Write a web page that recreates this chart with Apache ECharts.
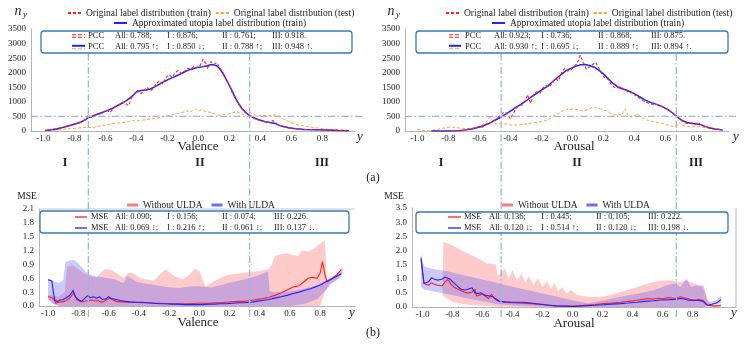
<!DOCTYPE html>
<html>
<head>
<meta charset="utf-8">
<script src="https://cdn.jsdelivr.net/npm/echarts@6/dist/echarts.min.js"></script>
<style>
  html, body { margin: 0; padding: 0; background: #fff; }
  #main { width: 748px; height: 353px; }
</style>
</head>
<body>
<div id="main"></div>
<script>
// ---- data ----
const xTicks = [-1.0, -0.8, -0.6, -0.4, -0.2, 0.0, 0.2, 0.4, 0.6, 0.8];

// (a) label distributions, valence
const valTrain = [[-0.99,10],[-0.96,40],[-0.93,60],[-0.91,50],[-0.89,110],[-0.87,130],[-0.85,170],[-0.83,180],[-0.81,230],[-0.79,260],[-0.77,270],[-0.75,310],[-0.73,380],[-0.71,560],[-0.69,460],[-0.67,520],[-0.65,600],[-0.63,570],[-0.61,660],[-0.59,700],[-0.57,640],[-0.55,760],[-0.53,880],[-0.51,900],[-0.49,1000],[-0.47,940],[-0.45,870],[-0.43,1150],[-0.41,1300],[-0.39,1390],[-0.37,1280],[-0.35,1400],[-0.33,1500],[-0.31,1380],[-0.29,1460],[-0.27,1640],[-0.25,1720],[-0.23,1610],[-0.21,1830],[-0.19,1930],[-0.17,1840],[-0.15,2000],[-0.13,2080],[-0.11,1970],[-0.09,2050],[-0.07,2150],[-0.05,2120],[-0.03,2220],[-0.01,2160],[0.01,2240],[0.03,2460],[0.05,2300],[0.06,2130],[0.08,2380],[0.10,2290],[0.12,2340],[0.14,2150],[0.16,1990],[0.18,1750],[0.20,1560],[0.22,1300],[0.24,1100],[0.26,920],[0.28,770],[0.30,650],[0.32,560],[0.34,490],[0.37,410],[0.40,360],[0.43,320],[0.46,300],[0.48,360],[0.49,300],[0.51,230],[0.54,170],[0.58,120],[0.63,80],[0.68,55],[0.75,45],[0.82,35],[0.90,20],[0.97,10]];
const valTest = [[-0.97,5],[-0.92,30],[-0.87,60],[-0.82,80],[-0.77,100],[-0.72,130],[-0.68,110],[-0.64,170],[-0.60,200],[-0.56,250],[-0.52,270],[-0.48,300],[-0.45,330],[-0.41,360],[-0.38,350],[-0.34,390],[-0.30,420],[-0.27,430],[-0.24,480],[-0.20,520],[-0.17,560],[-0.13,600],[-0.10,640],[-0.08,700],[-0.06,650],[-0.04,690],[-0.02,760],[0.00,680],[0.02,730],[0.04,680],[0.06,650],[0.08,640],[0.11,570],[0.14,540],[0.17,570],[0.20,590],[0.23,640],[0.25,660],[0.27,600],[0.29,560],[0.31,700],[0.33,650],[0.36,560],[0.39,520],[0.42,540],[0.45,520],[0.48,540],[0.50,560],[0.53,460],[0.56,380],[0.60,280],[0.64,210],[0.68,180],[0.72,140],[0.76,110],[0.80,80],[0.84,60],[0.88,50],[0.92,55],[0.96,35],[0.98,30]];
const valUtopia = [[-0.99,15],[-0.95,40],[-0.91,80],[-0.87,130],[-0.83,190],[-0.79,250],[-0.75,330],[-0.71,450],[-0.67,540],[-0.63,620],[-0.59,700],[-0.55,790],[-0.52,880],[-0.49,960],[-0.46,1060],[-0.43,1180],[-0.40,1340],[-0.37,1390],[-0.34,1410],[-0.31,1440],[-0.28,1520],[-0.25,1610],[-0.22,1700],[-0.19,1780],[-0.16,1850],[-0.13,1920],[-0.10,2000],[-0.07,2080],[-0.04,2130],[-0.01,2180],[0.02,2200],[0.05,2230],[0.08,2270],[0.10,2270],[0.12,2230],[0.14,2120],[0.16,1960],[0.18,1760],[0.20,1560],[0.22,1340],[0.24,1120],[0.26,930],[0.28,780],[0.30,660],[0.32,570],[0.34,500],[0.37,420],[0.40,370],[0.43,320],[0.46,290],[0.49,270],[0.51,220],[0.54,160],[0.58,110],[0.63,75],[0.68,55],[0.75,45],[0.82,35],[0.90,20],[0.97,10]];

// (a) label distributions, arousal
const aroTrain = [[-0.91,0],[-0.80,0],[-0.72,10],[-0.68,50],[-0.65,80],[-0.62,110],[-0.60,160],[-0.58,130],[-0.56,230],[-0.54,260],[-0.52,320],[-0.50,380],[-0.48,470],[-0.46,560],[-0.44,650],[-0.42,600],[-0.40,420],[-0.38,620],[-0.36,800],[-0.34,880],[-0.32,900],[-0.30,1080],[-0.29,1250],[-0.27,950],[-0.25,1250],[-0.23,1350],[-0.21,1300],[-0.19,1480],[-0.17,1560],[-0.15,1500],[-0.13,1650],[-0.11,1800],[-0.09,1720],[-0.07,2000],[-0.05,2150],[-0.03,2060],[-0.01,2100],[0.01,2200],[0.03,2320],[0.05,2600],[0.07,2350],[0.09,2120],[0.11,2200],[0.13,2280],[0.15,2360],[0.17,2150],[0.19,1950],[0.21,1800],[0.23,1780],[0.25,1600],[0.27,1500],[0.29,1480],[0.31,1520],[0.33,1430],[0.35,1380],[0.37,1300],[0.39,1330],[0.41,1200],[0.43,1140],[0.45,1050],[0.47,1000],[0.49,960],[0.51,930],[0.53,900],[0.55,910],[0.57,860],[0.59,800],[0.61,750],[0.63,680],[0.65,600],[0.67,500],[0.69,420],[0.71,330],[0.73,270],[0.75,250],[0.77,280],[0.79,230],[0.81,290],[0.83,210],[0.85,160],[0.88,110],[0.91,80],[0.94,60],[0.97,30]];
const aroTest = [[-1.00,60],[-0.97,20],[-0.93,10],[-0.90,20],[-0.87,60],[-0.84,90],[-0.81,120],[-0.78,140],[-0.75,110],[-0.72,100],[-0.69,80],[-0.66,90],[-0.63,120],[-0.60,170],[-0.57,250],[-0.55,330],[-0.53,480],[-0.51,300],[-0.49,240],[-0.46,270],[-0.43,240],[-0.40,210],[-0.37,200],[-0.34,210],[-0.31,230],[-0.28,260],[-0.25,280],[-0.22,300],[-0.19,330],[-0.16,380],[-0.14,440],[-0.12,520],[-0.10,560],[-0.08,640],[-0.06,700],[-0.04,760],[-0.02,720],[0.00,760],[0.02,740],[0.04,720],[0.06,690],[0.08,700],[0.10,740],[0.12,790],[0.14,800],[0.16,790],[0.18,760],[0.20,720],[0.22,700],[0.24,620],[0.27,560],[0.30,560],[0.32,560],[0.34,760],[0.36,520],[0.38,480],[0.40,520],[0.42,600],[0.44,480],[0.46,420],[0.48,380],[0.50,340],[0.53,310],[0.56,280],[0.59,240],[0.62,200],[0.65,150],[0.68,180],[0.69,290],[0.71,190],[0.74,160],[0.77,140],[0.80,150],[0.83,140],[0.86,110],[0.89,80],[0.92,55],[0.96,40]];
const aroUtopia = [[-0.91,0],[-0.80,0],[-0.74,5],[-0.70,30],[-0.65,70],[-0.61,120],[-0.57,190],[-0.53,280],[-0.50,370],[-0.46,480],[-0.43,580],[-0.40,680],[-0.37,790],[-0.33,920],[-0.30,1030],[-0.27,1150],[-0.23,1290],[-0.20,1400],[-0.16,1540],[-0.13,1680],[-0.10,1820],[-0.07,1950],[-0.04,2070],[-0.01,2150],[0.02,2220],[0.05,2270],[0.08,2280],[0.11,2250],[0.14,2190],[0.17,2090],[0.20,1960],[0.23,1800],[0.26,1640],[0.29,1520],[0.32,1450],[0.35,1400],[0.38,1330],[0.41,1250],[0.44,1150],[0.47,1060],[0.50,990],[0.53,940],[0.56,880],[0.59,810],[0.62,720],[0.65,600],[0.68,470],[0.71,350],[0.74,290],[0.77,260],[0.80,240],[0.83,210],[0.86,150],[0.89,100],[0.92,70],[0.95,50],[0.97,30]];

// (b) MSE, valence
const valMseBase = [[-1.00,0.20],[-0.98,0.19],[-0.96,0.14],[-0.95,0.06],[-0.93,0.08],[-0.91,0.09],[-0.89,0.10],[-0.87,0.14],[-0.85,0.20],[-0.83,0.28],[-0.82,0.26],[-0.81,0.14],[-0.79,0.10],[-0.77,0.09],[-0.75,0.11],[-0.73,0.12],[-0.71,0.13],[-0.69,0.11],[-0.67,0.12],[-0.65,0.08],[-0.63,0.10],[-0.61,0.14],[-0.59,0.17],[-0.57,0.13],[-0.55,0.10],[-0.52,0.09],[-0.49,0.08],[-0.46,0.08],[-0.42,0.08],[-0.38,0.07],[-0.34,0.07],[-0.30,0.06],[-0.26,0.06],[-0.22,0.05],[-0.18,0.05],[-0.14,0.05],[-0.10,0.05],[-0.06,0.05],[-0.02,0.06],[0.02,0.06],[0.06,0.06],[0.10,0.07],[0.14,0.07],[0.18,0.08],[0.22,0.09],[0.26,0.10],[0.30,0.10],[0.34,0.12],[0.38,0.14],[0.42,0.16],[0.46,0.19],[0.50,0.23],[0.54,0.28],[0.57,0.33],[0.60,0.38],[0.63,0.42],[0.66,0.44],[0.69,0.52],[0.72,0.60],[0.75,0.62],[0.78,0.60],[0.80,0.72],[0.815,0.96],[0.83,0.70],[0.845,0.52],[0.86,0.55],[0.88,0.60],[0.91,0.68],[0.94,0.79]];
const valMseUlda = [[-1.00,0.57],[-0.975,0.54],[-0.965,0.30],[-0.955,0.12],[-0.94,0.10],[-0.92,0.13],[-0.90,0.14],[-0.88,0.18],[-0.86,0.22],[-0.845,0.28],[-0.835,0.34],[-0.82,0.20],[-0.80,0.14],[-0.78,0.10],[-0.76,0.16],[-0.74,0.22],[-0.72,0.18],[-0.70,0.20],[-0.68,0.17],[-0.66,0.20],[-0.64,0.14],[-0.62,0.15],[-0.60,0.20],[-0.58,0.16],[-0.55,0.14],[-0.52,0.12],[-0.49,0.10],[-0.46,0.09],[-0.42,0.08],[-0.38,0.08],[-0.34,0.07],[-0.30,0.06],[-0.26,0.05],[-0.22,0.05],[-0.18,0.04],[-0.14,0.04],[-0.10,0.03],[-0.06,0.03],[-0.02,0.03],[0.02,0.03],[0.06,0.04],[0.10,0.04],[0.14,0.05],[0.18,0.05],[0.22,0.06],[0.26,0.07],[0.30,0.07],[0.34,0.08],[0.38,0.10],[0.42,0.12],[0.46,0.14],[0.50,0.17],[0.54,0.20],[0.58,0.23],[0.62,0.27],[0.66,0.30],[0.70,0.34],[0.74,0.38],[0.78,0.43],[0.81,0.47],[0.84,0.53],[0.87,0.58],[0.90,0.63],[0.94,0.70]];
const valBandBaseUp = [[-1.00,0.25],[-0.93,0.20],[-0.89,0.30],[-0.875,0.85],[-0.84,0.88],[-0.80,0.80],[-0.76,0.70],[-0.72,0.64],[-0.68,0.62],[-0.65,0.72],[-0.62,0.80],[-0.58,0.78],[-0.54,0.70],[-0.50,0.60],[-0.47,0.72],[-0.43,0.70],[-0.40,0.62],[-0.36,0.58],[-0.30,0.55],[-0.26,0.68],[-0.22,0.80],[-0.19,0.70],[-0.15,0.62],[-0.11,0.58],[-0.07,0.66],[-0.03,0.80],[0.00,0.76],[0.02,0.60],[0.04,0.42],[0.07,0.48],[0.11,0.56],[0.15,0.62],[0.20,0.68],[0.25,0.70],[0.30,0.72],[0.35,0.74],[0.40,0.76],[0.46,0.80],[0.48,0.90],[0.50,1.08],[0.54,1.12],[0.58,1.14],[0.62,1.10],[0.65,1.08],[0.68,1.20],[0.72,1.18],[0.76,1.24],[0.79,1.32],[0.83,1.42],[0.845,0.55],[0.88,0.60],[0.91,0.68],[0.95,0.85]];
const valBandBaseLow = [[-1.00,0.12],[-0.95,0.02],[-0.90,0.00],[0.80,0.00],[0.83,0.30],[0.86,0.48],[0.90,0.55],[0.95,0.72]];
const valBandUldaUp = [[-1.00,0.60],[-0.93,0.50],[-0.90,0.55],[-0.885,0.95],[-0.86,0.98],[-0.83,1.00],[-0.80,0.92],[-0.78,0.85],[-0.75,0.74],[-0.72,0.68],[-0.68,0.64],[-0.64,0.62],[-0.60,0.60],[-0.56,0.58],[-0.52,0.52],[-0.50,0.50],[-0.48,0.65],[-0.45,0.60],[-0.41,0.52],[-0.35,0.48],[-0.30,0.46],[-0.24,0.42],[-0.18,0.40],[-0.13,0.39],[-0.06,0.42],[0.00,0.43],[0.04,0.41],[0.08,0.40],[0.14,0.45],[0.19,0.50],[0.25,0.54],[0.30,0.58],[0.35,0.62],[0.39,0.66],[0.43,0.72],[0.455,0.76],[0.465,0.32],[0.50,0.30],[0.60,0.32],[0.70,0.38],[0.78,0.45],[0.82,0.52],[0.86,0.60],[0.90,0.66],[0.94,0.74]];
const valBandUldaLow = [[-1.00,0.15],[-0.96,0.05],[-0.93,0.00],[0.60,0.00],[0.70,0.05],[0.78,0.15],[0.84,0.35],[0.88,0.50],[0.94,0.62]];

// (b) MSE, arousal
const aroMseBase = [[-1.01,1.66],[-0.99,0.83],[-0.96,0.77],[-0.94,0.86],[-0.92,0.80],[-0.90,0.77],[-0.87,0.74],[-0.85,0.89],[-0.83,0.97],[-0.81,0.80],[-0.79,0.70],[-0.76,0.62],[-0.73,0.55],[-0.71,0.50],[-0.69,0.50],[-0.67,0.53],[-0.65,0.62],[-0.64,0.39],[-0.62,0.42],[-0.60,0.45],[-0.58,0.38],[-0.56,0.30],[-0.54,0.45],[-0.52,0.30],[-0.50,0.22],[-0.47,0.18],[-0.42,0.15],[-0.37,0.14],[-0.33,0.13],[-0.28,0.12],[-0.22,0.10],[-0.16,0.07],[-0.11,0.04],[-0.05,0.03],[0.00,0.03],[0.05,0.05],[0.10,0.07],[0.15,0.09],[0.21,0.12],[0.26,0.14],[0.32,0.17],[0.37,0.20],[0.43,0.24],[0.47,0.27],[0.50,0.30],[0.54,0.28],[0.57,0.31],[0.60,0.29],[0.63,0.33],[0.66,0.32],[0.69,0.30],[0.72,0.36],[0.74,0.33],[0.77,0.30],[0.79,0.25],[0.81,0.22],[0.84,0.27],[0.87,0.23],[0.90,0.06],[0.94,0.04],[0.97,0.04],[0.99,0.07]];
const aroMseUlda = [[-1.01,1.74],[-0.99,0.83],[-0.96,0.89],[-0.94,1.03],[-0.92,0.98],[-0.90,0.95],[-0.87,0.98],[-0.85,1.05],[-0.82,1.00],[-0.80,0.90],[-0.78,0.80],[-0.76,0.70],[-0.74,0.62],[-0.72,0.60],[-0.70,0.62],[-0.67,0.68],[-0.65,0.50],[-0.63,0.48],[-0.61,0.50],[-0.58,0.41],[-0.55,0.39],[-0.53,0.35],[-0.51,0.28],[-0.49,0.21],[-0.45,0.18],[-0.40,0.17],[-0.33,0.17],[-0.28,0.14],[-0.22,0.10],[-0.16,0.06],[-0.11,0.04],[-0.05,0.03],[0.00,0.02],[0.05,0.03],[0.10,0.05],[0.15,0.06],[0.21,0.08],[0.26,0.10],[0.32,0.12],[0.37,0.14],[0.43,0.17],[0.48,0.20],[0.54,0.22],[0.59,0.25],[0.65,0.26],[0.69,0.27],[0.72,0.30],[0.75,0.28],[0.77,0.24],[0.80,0.25],[0.84,0.23],[0.87,0.20],[0.90,0.06],[0.93,0.10],[0.96,0.14],[0.99,0.26]];
const aroBandBaseUp = [[-0.865,1.10],[-0.86,2.31],[-0.80,2.17],[-0.74,2.00],[-0.68,1.85],[-0.62,1.70],[-0.565,1.50],[-0.56,1.55],[-0.51,1.50],[-0.50,1.10],[-0.45,1.37],[-0.425,1.00],[-0.40,1.30],[-0.37,0.93],[-0.34,1.19],[-0.315,0.86],[-0.29,1.09],[-0.26,0.78],[-0.23,1.02],[-0.20,0.70],[-0.17,0.91],[-0.145,0.63],[-0.12,0.84],[-0.095,0.56],[-0.07,0.70],[-0.04,0.48],[-0.01,0.59],[0.03,0.42],[0.10,0.36],[0.15,0.36],[0.21,0.37],[0.27,0.45],[0.32,0.53],[0.38,0.62],[0.43,0.71],[0.49,0.80],[0.54,0.88],[0.60,0.93],[0.65,0.95],[0.70,0.90],[0.72,0.88],[0.76,0.95],[0.80,0.85],[0.84,0.78],[0.875,0.77],[0.90,0.24],[0.92,0.06],[0.99,0.05]];
const aroBandBaseLow = [[-0.865,0.40],[-0.80,0.18],[-0.70,0.08],[-0.60,0.04],[-0.50,0.01],[0.00,0.00],[0.90,0.00],[0.99,0.00]];
const aroBandUldaUp = [[-1.01,1.90],[-0.99,1.45],[-0.96,1.38],[-0.90,1.32],[-0.85,1.28],[-0.80,1.22],[-0.70,1.10],[-0.60,0.97],[-0.50,0.85],[-0.40,0.72],[-0.30,0.60],[-0.20,0.48],[-0.10,0.36],[0.00,0.24],[0.10,0.12],[0.21,0.24],[0.32,0.36],[0.43,0.47],[0.54,0.59],[0.63,0.77],[0.68,0.83],[0.72,0.71],[0.76,1.00],[0.79,0.71],[0.83,0.77],[0.87,0.71],[0.90,0.24],[0.92,0.18],[0.96,0.24],[0.99,0.41]];
const aroBandUldaLow = [[-1.01,0.70],[-0.99,0.62],[-0.90,0.52],[-0.80,0.42],[-0.70,0.30],[-0.60,0.20],[-0.50,0.10],[-0.40,0.05],[-0.20,0.01],[0.00,0.00],[0.88,0.00],[0.90,0.04],[0.94,0.08],[0.99,0.14]];

// region boundaries on each label axis
const valSplits = [-0.71, 0.33];
const aroSplits = [-0.46, 0.67];

// text of the statistics boxes
const valPcc = [['All: 0.788;', 'I : 0.876;', 'II : 0.761;', 'III: 0.918.'],
                ['All: 0.795 ↑;', 'I : 0.850 ↓;', 'II : 0.788 ↑;', 'III: 0.948 ↑.']];
const aroPcc = [['All: 0.923;', 'I : 0.736;', 'II : 0.868;', 'III: 0.875.'],
                ['All: 0.930 ↑;', 'I : 0.695 ↓;', 'II : 0.889 ↑;', 'III: 0.894 ↑.']];
const valMse = [['All: 0.090;', 'I : 0.156;', 'II : 0.074;', 'III: 0.226.'],
                ['All: 0.069 ↓;', 'I : 0.216 ↑;', 'II : 0.061 ↓;', 'III: 0.137 ↓.']];
const aroMse = [['All: 0.136;', 'I : 0.445;', 'II : 0.105;', 'III: 0.222.'],
                ['All: 0.120 ↓;', 'I : 0.514 ↑;', 'II : 0.120 ↓;', 'III: 0.198 ↓.']];

// ---- layout ----
const FONT = 'Liberation Serif';
const TXT = '#222';
const N_TRAIN = 'Original label distribution (train)';
const N_TEST = 'Original label distribution (test)';
const N_UTO = 'Approximated utopia label distribution (train)';
const N_BASE = 'Without ULDA';
const N_ULDA = 'With ULDA';

const grids = [
    { left: 31, top: 29, width: 324, height: 102 },
    { left: 405, top: 29, width: 324, height: 102 },
    { left: 39, top: 209, width: 316, height: 97 },
    { left: 412, top: 208, width: 324, height: 99 }
];
const xRanges = [[-1.08, 1.01], [-1.08, 1.01], [-1.06, 1.03], [-1.07, 1.09]];
const yRanges = [[0, 3500, 500], [0, 3500, 500], [0, 2.1, 0.3], [0, 3.5, 0.5]];

const chart = echarts.init(document.getElementById('main'));

function xAxis(i) {
    return {
        type: 'value', gridIndex: i, min: xRanges[i][0], max: xRanges[i][1],
        axisLine: { show: true, onZero: false, lineStyle: { color: '#b5b5b5', width: 1 } },
        axisTick: { show: false },
        splitLine: { show: false },
        axisLabel: {
            customValues: xTicks, formatter: v => v.toFixed(1),
            fontFamily: FONT, fontSize: 9, color: TXT, margin: 3
        }
    };
}
function yAxis(i) {
    const r = yRanges[i];
    return {
        type: 'value', gridIndex: i, min: r[0], max: r[1], interval: r[2],
        axisLine: { show: true, onZero: false, lineStyle: { color: '#b5b5b5', width: 1 } },
        axisTick: { show: false },
        splitLine: { show: false },
        axisLabel: {
            formatter: v => (i < 2 ? String(Math.round(v)) : v.toFixed(1)),
            fontFamily: FONT, fontSize: 9, color: TXT, margin: 5
        }
    };
}
function line(i, name, data, color, width, dash, z) {
    return {
        type: 'line', name: name, xAxisIndex: i, yAxisIndex: i, data: data,
        symbol: 'none', z: z, animation: false,
        lineStyle: { color: color, width: width, type: dash || 'solid' },
        itemStyle: { color: color }
    };
}
function band(i, name, upper, lower, fill) {
    return {
        type: 'custom', name: name, xAxisIndex: i, yAxisIndex: i, data: [[0, 0]],
        silent: true, z: 1, animation: false,
        renderItem: (params, api) => {
            const pts = upper.map(p => api.coord(p))
                .concat(lower.slice().reverse().map(p => api.coord(p)));
            return { type: 'polygon', shape: { points: pts }, style: { fill: fill } };
        }
    };
}

const RED = '#ff2020', ORANGE = '#ffa133', BLUE = '#2222ff';
const PINK = 'rgba(255,80,80,0.3)', LAV = 'rgba(80,80,255,0.3)';
const legendText = { fontFamily: FONT, fontSize: 9.5, color: TXT };
const noSymbol = { opacity: 0 };

const option = {
    animation: false,
    grid: grids.map(g => Object.assign({ outerBoundsMode: 'none', containLabel: false }, g)),
    xAxis: [0, 1, 2, 3].map(xAxis),
    yAxis: [0, 1, 2, 3].map(yAxis),
    legend: [
        { data: [N_TRAIN, N_TEST], left: 62, top: 3, itemWidth: 13, itemHeight: 8, itemGap: 4, selectedMode: false, itemStyle: noSymbol, textStyle: legendText },
        { data: [N_UTO], left: 108, top: 13, itemWidth: 13, itemHeight: 8, selectedMode: false, itemStyle: noSymbol, textStyle: legendText },
        { data: [N_TRAIN, N_TEST], left: 440, top: 3, itemWidth: 13, itemHeight: 8, itemGap: 4, selectedMode: false, itemStyle: noSymbol, textStyle: legendText },
        { data: [N_UTO], left: 486, top: 13, itemWidth: 13, itemHeight: 8, selectedMode: false, itemStyle: noSymbol, textStyle: legendText },
        { data: [{ name: N_BASE, icon: 'rect', itemStyle: { color: '#ff7b7b' } }, { name: N_ULDA, icon: 'rect', itemStyle: { color: '#6b6bff' } }],
          left: 122, top: 195, itemWidth: 11, itemHeight: 3, itemGap: 9, selectedMode: false, textStyle: legendText },
        { data: [{ name: N_BASE, icon: 'rect', itemStyle: { color: '#ff7b7b' } }, { name: N_ULDA, icon: 'rect', itemStyle: { color: '#6b6bff' } }],
          left: 497, top: 195, itemWidth: 11, itemHeight: 3, itemGap: 9, selectedMode: false, textStyle: legendText }
    ],
    series: [
        line(0, N_TEST, valTest, ORANGE, 1, [3, 2], 3),
        line(0, N_UTO, valUtopia, BLUE, 1.5, null, 4),
        line(0, N_TRAIN, valTrain, RED, 1.1, [3, 2], 5),
        line(1, N_TEST, aroTest, ORANGE, 1, [3, 2], 3),
        line(1, N_UTO, aroUtopia, BLUE, 1.5, null, 4),
        line(1, N_TRAIN, aroTrain, RED, 1.1, [3, 2], 5),
        line(2, N_BASE, valMseBase, RED, 1.1, null, 5),
        line(2, N_ULDA, valMseUlda, BLUE, 1.1, null, 6),
        band(2, N_BASE, valBandBaseUp, valBandBaseLow, PINK),
        band(2, N_ULDA, valBandUldaUp, valBandUldaLow, LAV),
        line(3, N_BASE, aroMseBase, RED, 1.1, null, 5),
        line(3, N_ULDA, aroMseUlda, BLUE, 1.1, null, 6),
        band(3, N_BASE, aroBandBaseUp, aroBandBaseLow, PINK),
        band(3, N_ULDA, aroBandUldaUp, aroBandUldaLow, LAV)
    ]
};
chart.setOption(option);

// ---- annotations: reference lines, stat boxes and labels ----
const gfx = [];
const DASHDOT = [7, 2.5, 1.5, 2.5];
const REF = '#9db4dc';

function text(x, y, s, size, extra) {
    gfx.push({
        type: 'text', x: x, y: y, z: 12,
        style: Object.assign({ text: s, fontFamily: FONT, fontSize: size, fill: TXT, align: 'left', verticalAlign: 'middle' }, extra || {})
    });
}
function seg(x1, y1, x2, y2, color, width, dash, z) {
    gfx.push({
        type: 'line', z: z, shape: { x1: x1, y1: y1, x2: x2, y2: y2 },
        style: { stroke: color, lineWidth: width, lineDash: dash || null }
    });
}

// vertical region boundaries through (a) and (b), horizontal 500 line in (a)
[[0, valSplits], [1, aroSplits]].forEach(([gi, splits]) => {
    splits.forEach(v => {
        const px = chart.convertToPixel({ gridIndex: gi }, [v, 0])[0];
        seg(px, 40, px, 317, REF, 1.3, DASHDOT, 8);
    });
    const py = chart.convertToPixel({ gridIndex: gi }, [0, 500])[1];
    const g = grids[gi];
    seg(g.left, py, g.left + g.width + 7, py, REF, 1.3, DASHDOT, 8);
});

// top border for the valence MSE panel, right border for the arousal one
seg(grids[2].left, grids[2].top, grids[2].left + grids[2].width, grids[2].top, '#c8c8c8', 1, null, 7);
seg(grids[3].left + grids[3].width, grids[3].top, grids[3].left + grids[3].width, grids[3].top + grids[3].height, '#b5b5b5', 1, null, 7);

// statistic boxes
const boxes = [
    { rect: [41, 31, 311, 22], rows: [36, 47], icon: [72, 85], label: 'PCC', lx: 88, cols: [115, 167, 222, 272], vals: valPcc, kind: 'pcc' },
    { rect: [416, 31, 312, 22], rows: [36, 47], icon: [449, 461], label: 'PCC', lx: 465, cols: [494, 541, 598, 651], vals: aroPcc, kind: 'pcc' },
    { rect: [40, 211, 309, 22], rows: [217, 228], icon: [75, 87], label: 'MSE', lx: 91, cols: [115, 167, 222, 274], vals: valMse, kind: 'mse' },
    { rect: [416, 212, 312, 21], rows: [217, 228], icon: [448, 461], label: 'MSE', lx: 464, cols: [489, 541, 596, 648], vals: aroMse, kind: 'mse' }
];
boxes.forEach(b => {
    gfx.push({
        type: 'rect', z: 10,
        shape: { x: b.rect[0], y: b.rect[1], width: b.rect[2], height: b.rect[3], r: 3 },
        style: { fill: '#fff', stroke: '#3b78b8', lineWidth: 1.3 }
    });
    const [ix1, ix2] = b.icon;
    if (b.kind === 'pcc') {
        seg(ix1, b.rows[0] - 1.2, ix2, b.rows[0] - 1.2, RED, 1.1, [4, 2], 11);
        seg(ix1, b.rows[0] + 1.2, ix2, b.rows[0] + 1.2, RED, 1.1, [4, 2], 11);
        seg(ix1, b.rows[1] - 1.2, ix2, b.rows[1] - 1.2, BLUE, 2, null, 11);
        seg(ix1, b.rows[1] + 1.8, ix2, b.rows[1] + 1.8, ORANGE, 1.1, [4, 2], 11);
    } else {
        seg(ix1, b.rows[0], ix2, b.rows[0], RED, 1.3, null, 11);
        seg(ix1, b.rows[1], ix2, b.rows[1], BLUE, 1.3, null, 11);
    }
    b.rows.forEach((ry, r) => {
        text(b.lx, ry, b.label, 8.5);
        b.vals[r].forEach((s, c) => text(b.cols[c], ry, s, 8.5));
    });
});

// axis titles and other labels
const italic = { fontStyle: 'italic', align: 'center' };
text(18, 11, 'n', 14, italic); text(25, 15, 'y', 9, italic);
text(391, 11, 'n', 14, italic); text(398, 15, 'y', 9, italic);
text(360, 137, 'y', 13, italic); text(736, 137, 'y', 13, italic);
text(352, 313, 'y', 13, italic); text(734, 313, 'y', 13, italic);
text(27, 196, 'MSE', 9.5, { align: 'center' });
text(394, 196, 'MSE', 9.5, { align: 'center' });
text(198, 147, 'Valence', 13, { align: 'center' });
text(574, 147, 'Arousal', 13, { align: 'center' });
text(198, 323, 'Valence', 13, { align: 'center' });
text(574, 324, 'Arousal', 13, { align: 'center' });
const bold = { fontWeight: 'bold', align: 'center' };
[[65, 'I'], [200, 'II'], [322, 'III'], [441, 'I'], [577, 'II'], [696, 'III']].forEach(([x, s]) => text(x, 163, s, 12, bold));
text(373, 178, '(a)', 12, { align: 'center' });
text(373, 333, '(b)', 12, { align: 'center' });

chart.setOption({ graphic: gfx });
</script>
</body>
</html>
